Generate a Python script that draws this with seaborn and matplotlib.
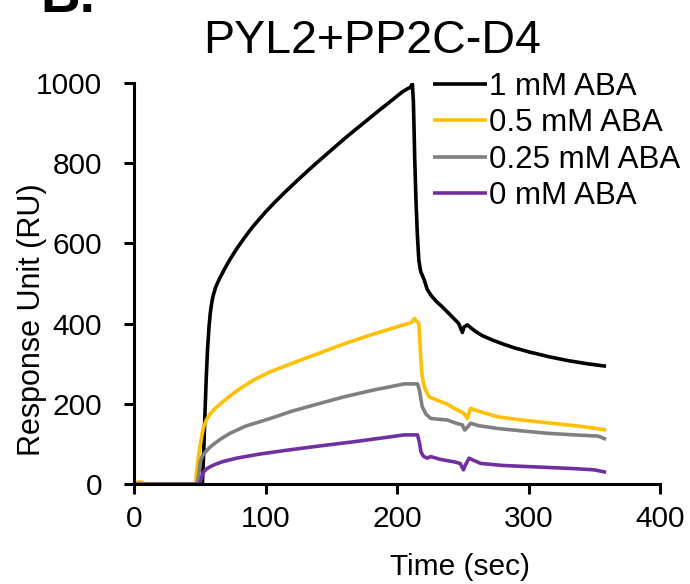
import matplotlib
matplotlib.use("Agg")
import matplotlib.pyplot as plt
import seaborn as sns
import pandas as pd

# ---- data ----
series_names = ["1 mM ABA", "0.5 mM ABA", "0.25 mM ABA", "0 mM ABA"]
series_colors = ["#000000", "#FFC000", "#808080", "#7030A0"]

t_1mM = [0, 52, 53, 54, 55, 56, 57, 58, 59, 60, 62, 65, 69, 73, 78, 84, 90, 96, 100, 107, 115,
         125, 137, 150, 162, 174, 186, 196, 204, 208, 210, 211.7, 212.5, 213, 213.5, 214.5,
         215.5, 216.6, 218, 220.7, 223, 226, 230, 235, 242, 247, 249.7, 251, 253.6, 256, 260,
         265, 272, 280, 289, 300, 315, 330, 345, 359]
v_1mM = [0, 0, 80, 180, 270, 340, 390, 426, 450, 467, 490, 512, 537, 560, 586, 614, 640, 663,
         678, 702, 728, 759, 795, 832, 866, 898, 930, 956, 977, 985, 988, 997, 950, 880, 807,
         700, 620, 558, 530, 509, 485, 470, 455, 440, 417, 400, 378, 392, 397, 390, 380,
         370, 360, 350, 340, 330, 318, 308, 300, 294]

t_05mM = [0, 2, 5, 8, 10, 46, 47, 47.5, 48.5, 49, 50, 51, 52, 53, 55, 58, 62, 67, 73, 80, 90,
          103.5, 120, 142, 160, 180, 195, 208, 211, 213.4, 215, 216.6, 217.5, 218.3, 219.2,
          221, 224.3, 230, 238, 243.6, 248, 251, 253.6, 255, 256, 262, 276.6, 295, 314.6, 335,
          350, 359]
v_05mM = [0, 5, 6, 2, 0, 0, 3, 30, 55, 69, 90, 110, 128, 143, 160, 176, 190, 204, 220, 237,
          258, 280, 301, 328, 350, 372, 387, 400, 403, 413, 405, 401, 350, 300, 268,
          240, 218, 210, 200, 189, 182, 176, 164, 180, 189, 182, 168, 160, 153, 146,
          140, 135]

t_025mM = [0, 48, 49, 50.3, 51, 52, 54, 57, 61, 66, 73, 85, 103.7, 120, 142, 160, 182.5, 195,
           205.4, 212, 215.6, 217, 219.2, 222, 225.6, 232, 238.4, 245, 249.7, 251.5, 253, 256,
           262, 276.6, 295, 314.6, 335, 353, 356, 359]
v_025mM = [0, 0, 20, 52, 62, 70, 79, 90, 101, 113, 127, 145, 164, 182, 202, 218, 235, 243,
           250, 250, 250, 235, 193, 175, 164, 162, 160, 152, 148, 135, 140, 152,
           146, 139, 133, 127, 123, 120, 116, 112]

t_0mM = [0, 50, 51, 52, 53, 55, 58, 62, 68, 78, 95, 116.5, 140, 167.3, 190, 205.4, 212, 215.6,
         217, 218.2, 220, 223, 225.6, 233, 243.3, 248, 250.5, 252, 254.8, 258, 263.7, 280, 300,
         314.6, 335, 350, 359]
v_0mM = [0, 0, 12, 24, 31, 38, 44, 50, 57, 65, 75, 85, 95, 106, 116, 123, 123, 123,
         105, 81, 70, 65, 69, 62, 56, 52, 36, 48, 65, 60, 52, 47, 44,
         42, 39, 36, 30]

x_ticks = [0, 100, 200, 300, 400]
y_ticks = [0, 200, 400, 600, 800, 1000]

# ---- build long table ----
frames = []
for name, t, v in zip(series_names,
                      [t_1mM, t_05mM, t_025mM, t_0mM],
                      [v_1mM, v_05mM, v_025mM, v_0mM]):
    frames.append(pd.DataFrame({"Time": t, "Response": v, "Series": name}))
df = pd.concat(frames, ignore_index=True)

sns.set_style("ticks")
plt.rcParams["font.family"] = ["Liberation Sans", "DejaVu Sans"]
plt.rcParams["text.color"] = "black"
plt.rcParams["axes.labelcolor"] = "black"
plt.rcParams["xtick.color"] = "black"
plt.rcParams["ytick.color"] = "black"
plt.rcParams["lines.solid_capstyle"] = "butt"

W, H = 690, 584
fig = plt.figure(figsize=(W / 100, H / 100), dpi=100)
ax = fig.add_axes([134 / W, 1 - 484.3 / H, (660 - 134) / W, (484.3 - 82.7) / H])

sns.lineplot(data=df, x="Time", y="Response", hue="Series", hue_order=series_names,
             palette=dict(zip(series_names, series_colors)), estimator=None, sort=False,
             linewidth=2.6, ax=ax, legend=True)

ax.set_xlim(0, 400)
ax.set_ylim(0, 1000)
ax.set_xticks(x_ticks)
ax.set_yticks(y_ticks)
ax.set_xlabel("")
ax.set_ylabel("")
for s in ["top", "right"]:
    ax.spines[s].set_visible(False)
for s in ["left", "bottom"]:
    ax.spines[s].set_linewidth(2.2)
    ax.spines[s].set_color("black")
ax.tick_params(axis="both", direction="out", length=7, width=2.2, colors="black",
               labelcolor="black", labelsize=21.5)
ax.tick_params(axis="y", pad=16)
ax.tick_params(axis="x", pad=8)

handles, labels = ax.get_legend_handles_labels()
leg = ax.legend(handles, labels, loc="upper left", bbox_to_anchor=(432.7 / W, 1 - 72 / H),
                bbox_transform=fig.transFigure, frameon=False, fontsize=22.5,
                borderpad=0, borderaxespad=0, labelspacing=0.2, handlelength=1.75,
                handletextpad=0.05)
for line in leg.get_lines():
    line.set_linewidth(2.6)
for txt in leg.get_texts():
    txt.set_color("black")

fig.text(372.5 / W, 1 - 53 / H, "PYL2+PP2C-D4", ha="center", va="baseline", fontsize=33.5)
fig.text(40 / W, 1 - 11.7 / H, "B.", ha="left", va="baseline", fontsize=39.5,
         fontweight="bold")
fig.text(460 / W, 1 - 575 / H, "Time (sec)", ha="center", va="baseline", fontsize=21.5)
fig.text(32 / W, 1 - 320 / H, "Response Unit (RU)", ha="center", va="center",
         rotation=90, fontsize=22)

fig.savefig("out.png", dpi=100)
